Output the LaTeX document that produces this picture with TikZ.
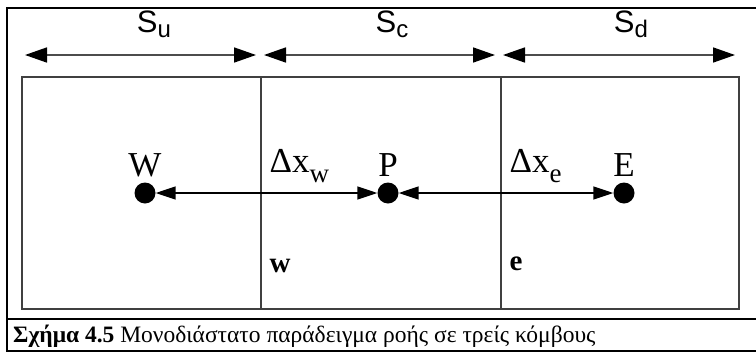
\documentclass[tikz,border=0pt]{standalone}
\usepackage{fontspec}
\setmainfont{Liberation Serif}
\setsansfont{Liberation Sans}
\usepackage{tikz}
\usetikzlibrary{arrows.meta, positioning}

\begin{document}
\begin{tikzpicture}[x=1pt, y=-1pt,
    wall/.style={draw=black!75, line width=2pt},
    span/.style={black!70, line width=1.6pt, {Triangle[length=22pt,width=15pt,black]}-{Triangle[length=22pt,width=15pt,black]}},
    link/.style={black, line width=1.6pt, -{Triangle[length=20pt,width=13pt]}},
    pnt/.style={circle, fill=black, inner sep=0pt, minimum size=21pt},
    lbl/.style={font=\fontsize{35}{35}\selectfont},
    slbl/.style={font=\sffamily\fontsize{31}{31}\selectfont}]
        \useasboundingbox (0,0) rectangle (756,354);
        % frame and caption
        \draw[line width=2pt] (757,8) -- (7,8) -- (7,351) -- (757,351);
        \draw[line width=1.5pt] (7,319) -- (757,319);
        \node[anchor=west, inner sep=0pt, font=\fontsize{23.5}{23.5}\selectfont] (cap) at (13,336)
            {\textbf{Σχήμα 4.5} Μονοδιάστατο παράδειγμα ροής σε τρείς κόμβους};
        % control volumes
        \draw[wall] (22,77) rectangle (739,309);
        \draw[wall] (261,77) -- (261,309);
        \draw[wall] (501,77) -- (501,309);
        % widths
        \coordinate (u0) at (25,55);  \coordinate (u1) at (256,55);
        \coordinate (c0) at (264,55); \coordinate (c1) at (495,55);
        \coordinate (d0) at (503,55); \coordinate (d1) at (735,55);
        \draw[span] (u0) -- (u1);
        \draw[span] (c0) -- (c1);
        \draw[span] (d0) -- (d1);
        \node[slbl] (Su) at (154,24) {S\raisebox{-0.3ex}{\fontsize{24}{24}\selectfont u}};
        \node[slbl] (Sc) at (392,24) {S\raisebox{-0.3ex}{\fontsize{24}{24}\selectfont c}};
        \node[slbl] (Sd) at (631,24) {S\raisebox{-0.3ex}{\fontsize{24}{24}\selectfont d}};
        % nodes
        \node[pnt] (W) at (145,193) {};
        \node[pnt] (P) at (388,193) {};
        \node[pnt] (E) at (624,193) {};
        \node[lbl, above=2pt of W] (Wl) {W};
        \node[lbl, above=2pt of P] (Pl) {P};
        \node[lbl, above=2pt of E] (El) {E};
        \node[lbl, anchor=west] (dxw) at (266,166) {Δx\raisebox{-0.6ex}{\fontsize{27}{27}\selectfont w}};
        \node[lbl, anchor=west] (dxe) at (506,166) {Δx\raisebox{-0.6ex}{\fontsize{27}{27}\selectfont e}};
        \node[font=\bfseries\fontsize{29}{29}\selectfont, anchor=west] (w) at (266,266) {w};
        \node[font=\bfseries\fontsize{29}{29}\selectfont, anchor=west] (e) at (506,264) {e};
        % distances
        \coordinate (fw) at (234,193);
        \coordinate (fe) at (497,193);
        \draw[link] (fw) -- (W);
        \draw[link] (fw) -- (P);
        \draw[link] (fe) -- (P);
        \draw[link] (fe) -- (E);
\end{tikzpicture}
\end{document}
